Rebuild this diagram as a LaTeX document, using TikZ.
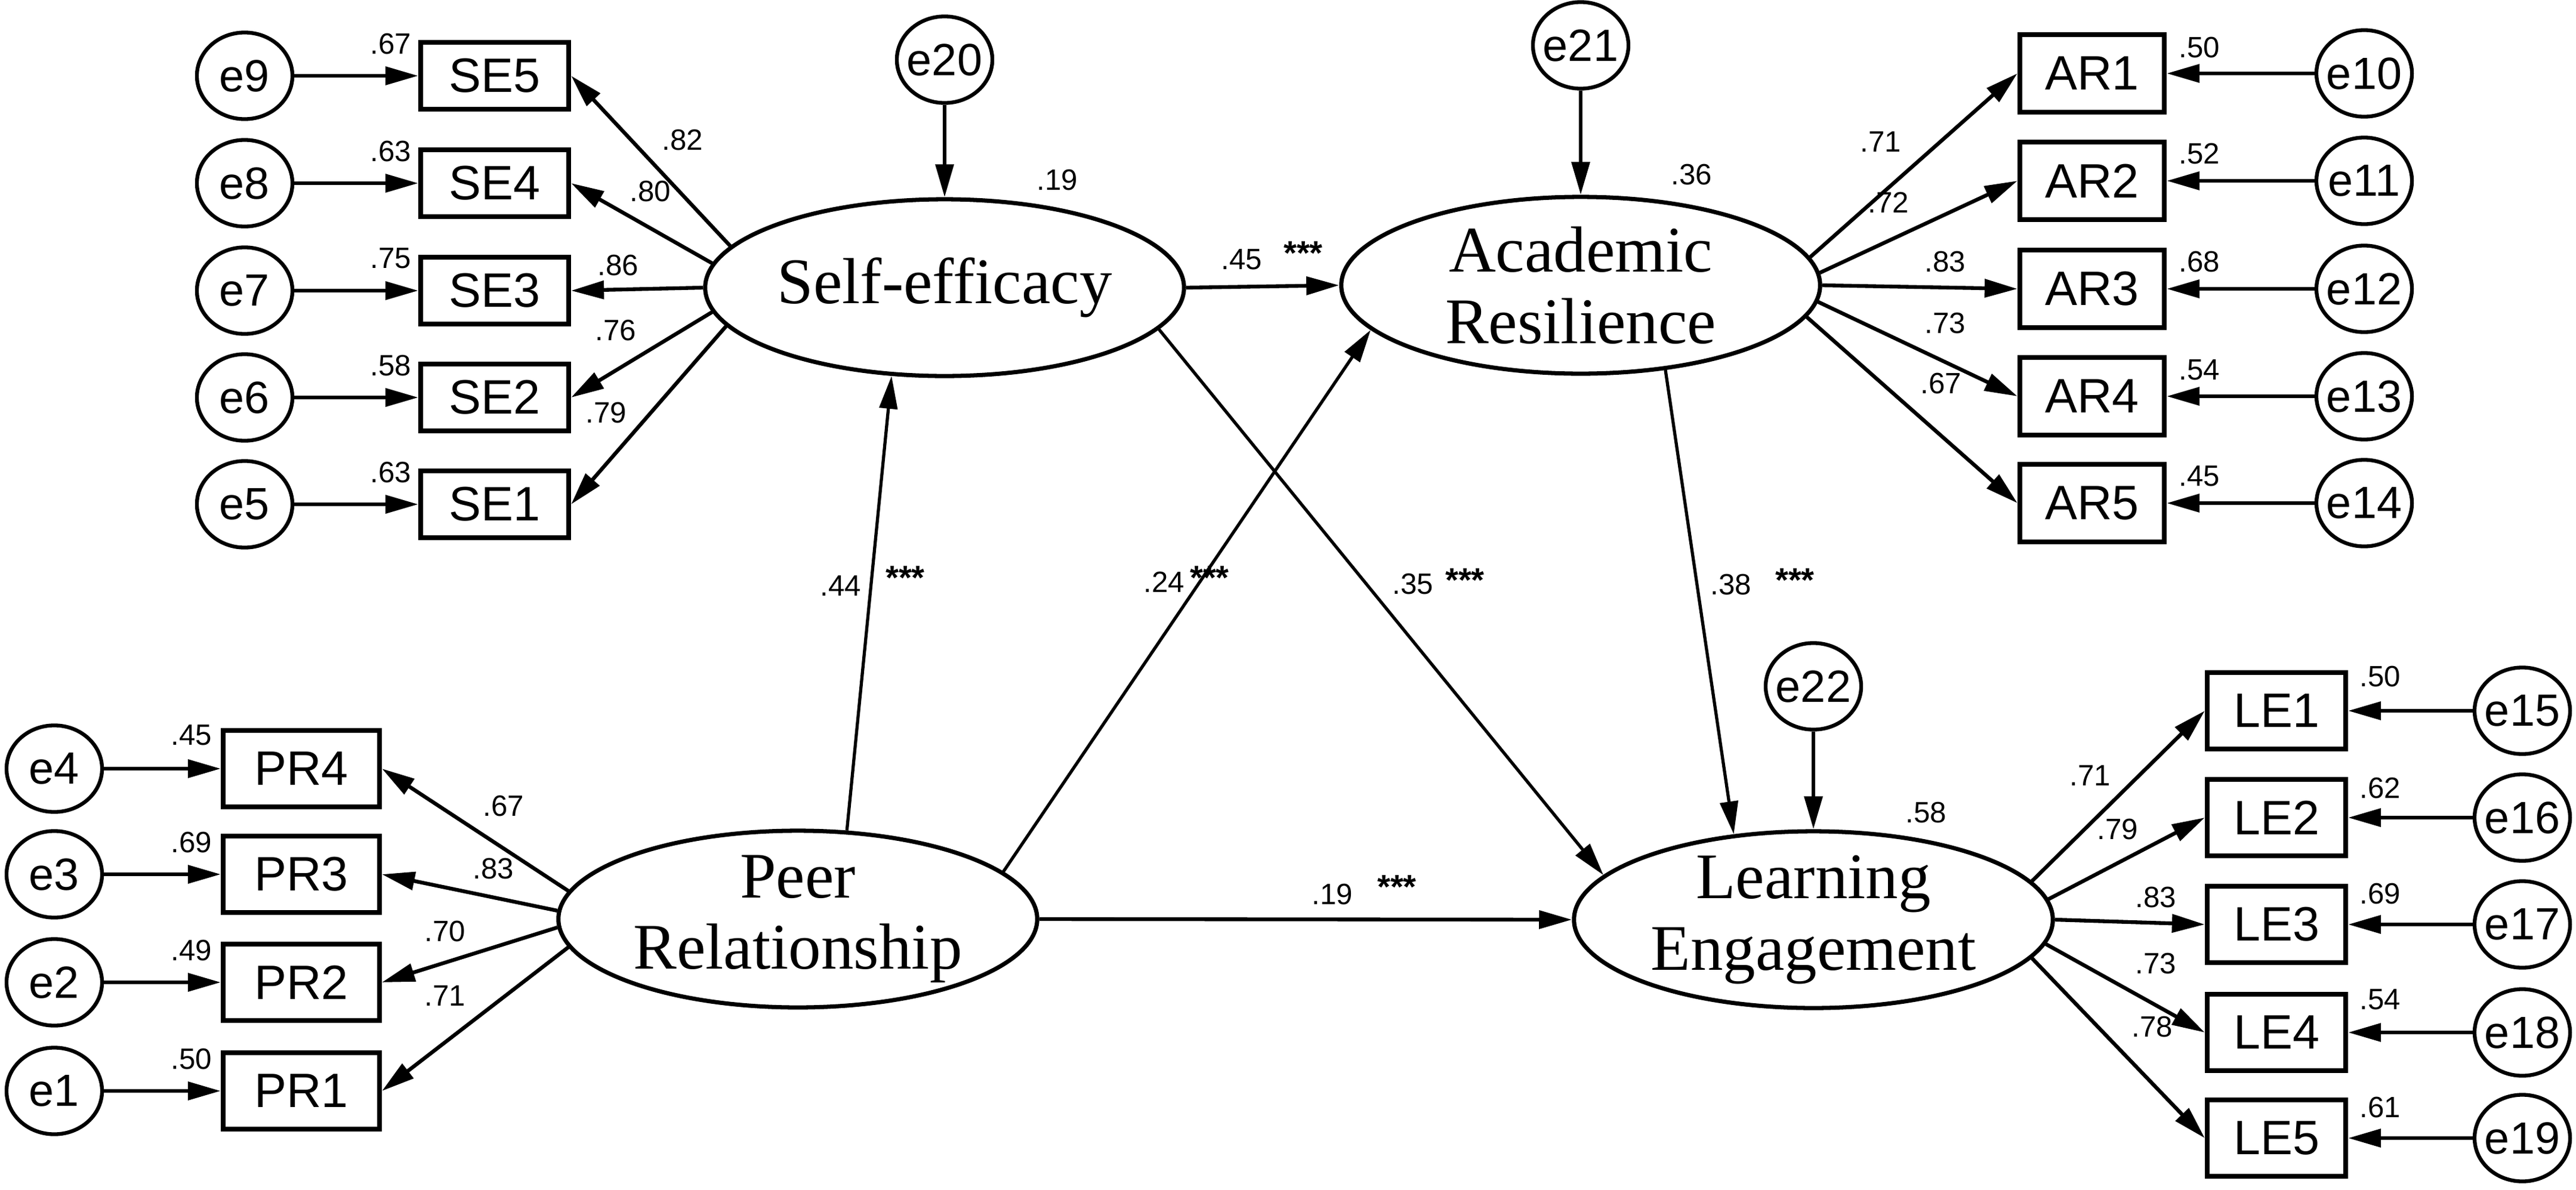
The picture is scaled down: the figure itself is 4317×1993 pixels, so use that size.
\documentclass[tikz,border=0pt]{standalone}
\usepackage{fontspec}
\setmainfont{Liberation Serif}
\setsansfont{Liberation Sans}
\usetikzlibrary{arrows.meta,shapes.geometric}
\newcommand\zw[1]{\makebox[0pt]{#1}}
\begin{document}
\begin{tikzpicture}[x=0.01cm,y=-0.01cm,
  latent/.style={ellipse,draw,line width=2pt,minimum width=8.02cm,minimum height=2.96cm,inner sep=0pt},
  lattext/.style={font=\fontsize{31}{34}\selectfont\rmfamily,align=center,inner sep=0pt},
  errc/.style={ellipse,draw,line width=1.8pt,minimum width=1.6cm,minimum height=1.45cm,inner sep=0pt,font=\fontsize{21.5}{24}\selectfont\sffamily},
  obs/.style={rectangle,draw,line width=2.3pt,inner sep=0pt,font=\fontsize{23}{26}\selectfont\sffamily},
  seb/.style={obs,minimum width=2.48cm,minimum height=1.12cm},
  prb/.style={obs,minimum width=2.62cm,minimum height=1.28cm},
  arb/.style={obs,minimum width=2.42cm,minimum height=1.3cm},
  leb/.style={obs,minimum width=2.32cm,minimum height=1.28cm},
  val/.style={inner sep=0pt,font=\fontsize{14}{16}\selectfont\sffamily},
  stars/.style={inner sep=0pt,font=\fontsize{16}{18}\selectfont\sffamily\bfseries},
  arr/.style={-{Triangle[length=0.55cm,width=0.3cm]},line width=1.8pt},
  sarr/.style={-{Triangle[length=0.55cm,width=0.3cm]},line width=1.5pt},
]
\fill[white] (0,0) rectangle (4317,1993);
\useasboundingbox (0,0) rectangle (4317,1993);

% latent variables
\node[latent] (SE) at (1583,482) {};
\node[lattext] (SEt) at (SE) {Self-efficacy};
\node[latent] (AR) at (2649,478) {};
\node[lattext] (ARt) at (AR) {Academic\\Resilience};
\node[latent] (PR) at (1337,1540) {};
\node[lattext] (PRt) at (PR) {Peer\\Relationship};
\node[latent] (LE) at (3039,1541) {};
\node[lattext] (LEt) at (LE) {Learning\\Engagement};

% disturbances
\node[errc] (e20) at (1583,100) {\zw{e20}};
\node[errc] (e21) at (2649,76) {\zw{e21}};
\node[errc] (e22) at (3039,1150) {\zw{e22}};

% Self-efficacy indicators
\foreach \i/\y/\e in {5/127/9,4/307/8,3/487/7,2/666/6,1/845/5}{
  \node[seb] (se\i) at (829,\y) {SE\i};
  \node[errc] (e\e) at (410,\y) {\zw{e\e}};
  \draw[arr] (e\e) -- (se\i);
}
% Peer relationship indicators
\foreach \i/\y in {4/1288,3/1465,2/1646,1/1828}{
  \node[prb] (pr\i) at (505,\y) {PR\i};
  \node[errc] (e\i) at (91,\y) {\zw{e\i}};
  \draw[arr] (e\i) -- (pr\i);
}
% Academic resilience indicators
\foreach \i/\y/\e in {1/123/10,2/303/11,3/484/12,4/664/13,5/843/14}{
  \node[arb] (ar\i) at (3506,\y) {AR\i};
  \node[errc] (e\e) at (3962,\y) {\zw{e\e}};
  \draw[arr] (e\e) -- (ar\i);
}
% Learning engagement indicators
\foreach \i/\y/\e in {1/1191/15,2/1370/16,3/1549/17,4/1730/18,5/1907/19}{
  \node[leb] (le\i) at (3815,\y) {LE\i};
  \node[errc] (e\e) at (4227,\y) {\zw{e\e}};
  \draw[arr] (e\e) -- (le\i);
}

% loadings
\foreach \i/\a in {5/169.8,4/174.3,3/180,2/186.8,1/190.9}
  \draw[arr] (SE.\a) -- (se\i.east);
\foreach \i/\a in {4/173.4,3/178,2/182.5,1/187.2}
  \draw[arr] (PR.\a) -- (pr\i.east);
\foreach \i/\a in {1/7.9,2/3.5,3/0,4/-4.8,5/-8.8}
  \draw[arr] (AR.\a) -- (ar\i.west);
\foreach \i/\a in {1/10.5,2/5.3,3/0,4/-6.2,5/-10.2}
  \draw[arr] (LE.\a) -- (le\i.west);

% disturbance paths
\draw[arr] (e20) -- (SE);
\draw[arr] (e21) -- (AR);
\draw[arr] (e22) -- (LE);

% structural paths
\draw[arr] (SE.east) -- (AR.west);
\draw[arr] (PR.east) -- (LE.west);
\draw[sarr] (PR.61.4) -- (SE.239.4);
\draw[sarr] (PR.13.2) -- (AR.192.1);
\draw[sarr] (SE.349.4) -- (LE.168.1);
\draw[sarr] (AR.315) -- (LE.133.7);

% loading values
\foreach \t/\x/\y [count=\n] in {.82/1144/235,.80/1090/321,.86/1036/445,.76/1032/554,.79/1016/692,
  .67/844/1351,.83/827/1456,.70/746/1561,.71/746/1669,
  .71/3152/238,.72/3165/339,.83/3260/439,.73/3260/542,.67/3253/643,
  .71/3503/1300,.79/3549/1390,.83/3613/1504,.73/3613/1615,.78/3607/1721}
  \node[val] (ld\n) at (\x,\y) {\t};
% squared multiple correlations of indicators
\foreach \t/\x/\y [count=\n] in {.67/655/74,.63/655/254,.75/655/433,.58/655/613,.63/655/792,
  .45/321/1232,.69/321/1412,.49/321/1593,.50/321/1775,
  .50/3686/80,.52/3686/258,.68/3686/439,.54/3686/620,.45/3686/798,
  .50/3989/1134,.62/3989/1321,.69/3989/1498,.54/3989/1675,.61/3989/1856}
  \node[val] (rs\n) at (\x,\y) {\t};
% squared multiple correlations of latents
\node[val] (rSE) at (1772,302) {.19};
\node[val] (rAR) at (2835,293) {.36};
\node[val] (rLE) at (3228,1362) {.58};
% path coefficients
\foreach \t/\x/\y/\sx/\sy [count=\n] in {.45/2081/435/2184/424,.44/1409/982/1517/968,
  .24/1951/975/2027/968,.35/2368/979/2455/972,.38/2901/980/3008/972,.19/2233/1499/2341/1486}{
  \node[val] (pc\n) at (\x,\y) {\t};
  \node[stars] (st\n) at (\sx,\sy) {***};
}
\end{tikzpicture}
\end{document}
